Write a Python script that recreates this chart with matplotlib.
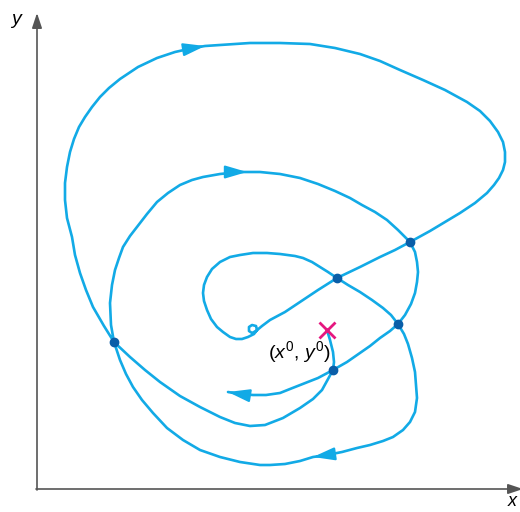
import matplotlib
matplotlib.use("Agg")
import matplotlib.pyplot as plt

plt.rcParams["font.family"] = ["Liberation Sans", "DejaVu Sans"]
plt.rcParams["mathtext.fontset"] = "custom"
plt.rcParams["mathtext.rm"] = "Liberation Sans"
plt.rcParams["mathtext.it"] = "Liberation Sans:italic"

CURVE = "#12aae6"
DOT = "#0a5ea8"
CROSS = "#e5177f"
AXIS = "#555555"

# trajectory (pixel units, y down), from (x0, y0) to the end
path_x = [327, 330, 333, 334, 333, 322, 313, 300, 283, 265, 250, 235, 220, 200, 180,
          160, 145, 130, 114, 104, 93, 86, 80, 75, 72, 67, 65, 65, 67, 70,
          74, 79, 85, 92, 100, 109, 120, 138, 157, 175, 193, 205, 220, 250, 280,
          310, 335, 360, 380, 400, 423, 445, 467, 480, 490, 498, 503, 505, 505, 503,
          499, 494, 487, 475, 460, 445, 430, 410, 395, 380, 360, 337, 318, 300, 285,
          270, 262, 256, 252, 249, 249, 252, 256, 257, 254, 248, 242, 236, 230, 223,
          217, 211, 207, 204, 203, 204, 207, 212, 220, 230, 240, 253, 267, 280, 295,
          303, 312, 320, 328, 337, 348, 360, 372, 383, 391, 398, 404, 408, 412, 415,
          416, 417, 415, 410, 403, 393, 383, 370, 357, 342, 327, 313, 300, 285, 270,
          260, 240, 220, 200, 183, 167, 153, 142, 133, 126, 120, 114, 111, 110, 112,
          115, 119, 123, 130, 137, 147, 157, 168, 180, 192, 203, 220, 240, 247, 260,
          280, 300, 318, 335, 350, 362, 375, 387, 398, 410, 415, 417, 418, 417, 415,
          411, 405, 398, 390, 380, 370, 360, 347, 333, 318, 300, 290, 280, 266, 253,
          240, 228]
path_y = [330, 340, 352, 362, 370, 390, 399, 408, 418, 425, 426, 423, 417, 407, 396,
          382, 370, 357, 342, 326, 307, 290, 273, 255, 237, 218, 200, 183, 167, 152,
          139, 127, 117, 107, 97, 88, 79, 67, 58, 52, 48, 46, 45, 43, 43,
          44, 48, 54, 61, 70, 80, 90, 102, 111, 121, 132, 142, 152, 162, 170,
          178, 185, 193, 203, 213, 222, 231, 242, 250, 257, 267, 278, 290, 302, 312,
          320, 326, 331, 333, 331, 327, 325, 326, 330, 334, 337, 339, 339, 337, 332,
          327, 319, 310, 301, 293, 285, 277, 269, 262, 257, 255, 253, 253, 254, 256,
          258, 262, 267, 272, 278, 285, 292, 300, 308, 315, 324, 334, 344, 358, 372,
          385, 398, 412, 422, 430, 437, 441, 445, 448, 452, 455, 457, 461, 464, 465,
          465, 462, 457, 450, 440, 428, 413, 400, 387, 374, 360, 342, 325, 303, 285,
          270, 258, 247, 236, 227, 214, 202, 193, 185, 180, 177, 174, 172, 172, 172,
          174, 178, 184, 191, 198, 205, 212, 220, 230, 242, 252, 262, 272, 282, 293,
          304, 315, 324, 331, 338, 346, 353, 362, 370, 378, 385, 389, 393, 395, 395,
          394, 392]

# crossing points and start
dots_x = [410, 337, 398, 333, 114]
dots_y = [242, 278, 324, 370, 342]
start_x, start_y = 327, 330

# arrowhead tips along the path (points of the path)
arrow_tips = [(205, 46), (247, 172), (313, 457), (228, 392)]

fig = plt.figure(figsize=(5.2, 5.12), dpi=100)
ax = fig.add_axes([0, 0, 1, 1])
ax.set_xlim(0, 520)
ax.set_ylim(512, 0)
ax.axis("off")

# axes with arrows
axis_arrow = dict(arrowstyle="-|>,head_length=0.9,head_width=0.3",
                  color=AXIS, lw=1.2, shrinkA=0, shrinkB=0)
ax.annotate("", xy=(37, 13), xytext=(37, 490), arrowprops=axis_arrow,
            annotation_clip=False)
ax.annotate("", xy=(523, 489), xytext=(36, 489), arrowprops=axis_arrow,
            annotation_clip=False)
ax.text(11, 20, "y", style="italic", fontsize=14, ha="left", va="center")
ax.text(508, 502, "x", style="italic", fontsize=13, ha="left", va="center")

ax.plot(path_x, path_y, color=CURVE, lw=1.9, solid_capstyle="round",
        solid_joinstyle="round")

pts = list(zip(path_x, path_y))
for tip in arrow_tips:
    i = pts.index(tip)
    ax.annotate("", xy=tip, xytext=pts[i - 1],
                arrowprops=dict(arrowstyle="-|>,head_length=0.95,head_width=0.28",
                                color=CURVE, lw=1.5, shrinkA=0, shrinkB=0,
                                mutation_scale=14))

ax.scatter(dots_x, dots_y, s=36, color=DOT, zorder=3)
ax.plot(start_x, start_y, marker="x", ms=11, mew=2.0, color=CROSS, zorder=4)
ax.text(299, 352, r"$(x^0,\, y^0)$", fontsize=14, ha="center", va="center")

fig.savefig("out.png", dpi=100)
